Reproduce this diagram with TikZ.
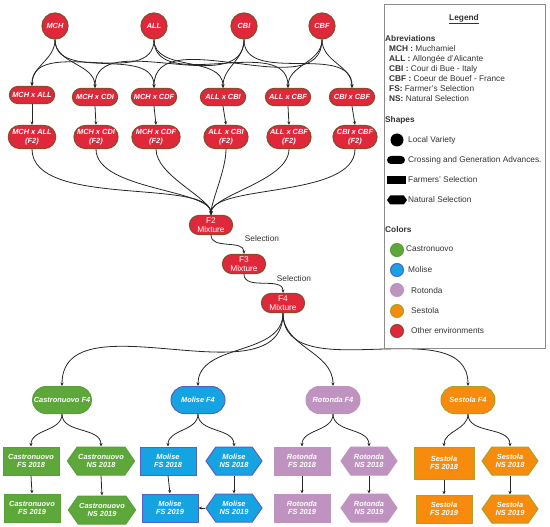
\documentclass[tikz,border=0pt]{standalone}
\usepackage{fontspec}
\setmainfont{Liberation Sans}
\usetikzlibrary{shapes.misc,shapes.symbols,arrows.meta}
\definecolor{cred}{HTML}{E0283A}
\definecolor{cbrown}{HTML}{8A4A2E}
\definecolor{cgreen}{HTML}{5EA83B}
\definecolor{cgreenb}{HTML}{5A9E38}
\definecolor{cblue}{HTML}{16A3E2}
\definecolor{cblueb}{HTML}{5560CC}
\definecolor{cpurple}{HTML}{BF93BF}
\definecolor{corange}{HTML}{F68B0E}
\definecolor{colive}{HTML}{A8A428}
\definecolor{ctext}{HTML}{333333}
\tikzset{
  nf/.style={font=\fontsize{7.4}{8.6}\selectfont\bfseries\itshape, text=white, align=center, inner sep=1pt},
  var/.style={nf, circle, fill=cred, draw=cbrown, line width=1.2pt, minimum size=26pt},
  cross/.style={nf, rounded rectangle, fill=cred, draw=cbrown, line width=1.2pt, minimum width=47pt, minimum height=17pt},
  crossb/.style={cross, minimum width=46pt, minimum height=23pt},
  mix/.style={rounded rectangle, fill=cred, draw=cbrown, line width=1.2pt, minimum width=44pt, minimum height=19pt, font=\fontsize{8.3}{8.6}\selectfont, text=white, align=center, inner sep=0.5pt},
  env/.style={nf, rounded rectangle, minimum width=56pt, minimum height=27pt, line width=1pt},
  fsbox/.style={nf, rectangle, minimum width=56pt, minimum height=28pt, line width=1pt},
  nsbox/.style={nf, signal, signal to=west and east, signal pointer angle=110, minimum width=56pt, minimum height=28pt, line width=1pt},
  cg/.style={fill=cgreen, draw=cgreenb},
  cb/.style={fill=cblue, draw=cblueb},
  cp/.style={fill=cpurple, draw=cpurple},
  co/.style={fill=corange, draw=colive},
  arr/.style={-{Stealth[length=3.5pt,width=3pt]}, line width=0.8pt, draw=black!85},
  lt/.style={anchor=west, font=\fontsize{8.3}{10}\selectfont, text=ctext, inner sep=0pt},
  lh/.style={anchor=west, font=\fontsize{8.3}{10}\selectfont\bfseries, text=ctext, inner sep=0pt},
  ldot/.style={circle, minimum size=13pt, inner sep=0pt, line width=1pt},
}
\begin{document}
\begin{tikzpicture}[x=1pt,y=-1pt]
\useasboundingbox (0,0) rectangle (550,527);
% parents
\node[var] (mch) at (55,26) {MCH};
\node[var] (all) at (154,26) {ALL};
\node[var] (cbi) at (244,26) {CBI};
\node[var] (cbf) at (322,26) {CBF};
% crossings
\node[cross] (a1) at (32,95) {MCH x ALL};
\node[cross] (b1) at (95,97) {MCH x CDI};
\node[cross] (c1) at (154,97) {MCH x CDF};
\node[cross] (d1) at (223,97) {ALL x CBI};
\node[cross] (e1) at (288,97) {ALL x CBF};
\node[cross] (f1) at (352,97) {CBI x CBF};
\node[crossb] (a2) at (32,137) {MCH x ALL\\(F2)};
\node[crossb] (b2) at (96,137) {MCH x CDI\\(F2)};
\node[crossb] (c2) at (156,137) {MCH x CDF\\(F2)};
\node[crossb] (d2) at (226,137) {ALL x CBI\\(F2)};
\node[crossb] (e2) at (289,137) {ALL x CBF\\(F2)};
\node[crossb] (f2n) at (355,137) {CBI x CBF\\(F2)};
% mixtures
\node[mix] (mx2) at (211,225) {F2\\Mixture};
\node[mix] (mx3) at (244,264) {F3\\Mixture};
\node[mix] (mx4) at (283,303) {F4\\Mixture};
\node[lt, anchor=center] (sel1) at (262,239) {Selection};
\node[lt, anchor=center] (sel2) at (294,279) {Selection};
% environments
\node[env, cg] (ca) at (62,400) {Castronuovo F4};
\node[env, cb] (mo) at (198,400) {Molise F4};
\node[env, cp] (ro) at (333,400) {Rotonda F4};
\node[env, co] (se) at (468,400) {Sestola F4};
\node[fsbox, cg] (cafs8) at (31,461) {Castronuovo\\FS 2018};
\node[nsbox, cg] (cans8) at (101,461) {Castronuovo\\NS 2018};
\node[fsbox, cg] (cafs9) at (32,508) {Castronuovo\\FS 2019};
\node[nsbox, cg] (cans9) at (102,510) {Castronuovo\\NS 2019};
\node[fsbox, cb] (mofs8) at (168,461) {Molise\\FS 2018};
\node[nsbox, cb] (mons8) at (234,461) {Molise\\NS 2018};
\node[fsbox, cb] (mofs9) at (170,508) {Molise\\FS 2019};
\node[nsbox, cb] (mons9) at (234,508) {Molise\\NS 2019};
\node[fsbox, cp] (rofs8) at (302,461) {Rotonda\\FS 2018};
\node[nsbox, cp] (rons8) at (369,461) {Rotonda\\NS 2018};
\node[fsbox, cp] (rofs9) at (302,508) {Rotonda\\FS 2019};
\node[nsbox, cp] (rons9) at (369,508) {Rotonda\\NS 2019};
\node[fsbox, co, minimum width=60pt, minimum height=32pt] (sefs8) at (444,463) {Sestola\\FS 2018};
\node[nsbox, co] (sens8) at (510,461) {Sestola\\NS 2018};
\node[fsbox, co] (sefs9) at (444,509) {Sestola\\FS 2019};
\node[nsbox, co] (sens9) at (510,509) {Sestola\\NS 2019};
% edges top
\foreach \s/\t in {mch/a1, mch/b1, mch/c1, all/a1, all/d1, all/e1, cbi/b1, cbi/d1, cbi/f1, cbf/c1, cbf/e1, cbf/f1}
  \draw[arr] (\s.south) to[out=-90,in=90] (\t.north);
\foreach \s/\t in {a1/a2, b1/b2, c1/c2, d1/d2, e1/e2, f1/f2n}
  \draw[arr] (\s.south) -- (\t.north);
\foreach \s in {a2,b2,c2,d2,e2,f2n}
  \draw[arr] (\s.south) to[out=-90,in=90,out looseness=0.8,in looseness=0.5] (mx2.north);
\draw[arr] (mx2.south) to[out=-90,in=90] (mx3.north);
\draw[arr] (mx3.south) to[out=-90,in=90] (mx4.north);
\foreach \t in {ca,mo,ro,se}
  \draw[arr] (mx4.south) to[out=-90,in=90] (\t.north);
\foreach \s/\a/\b in {ca/cafs8/cans8, mo/mofs8/mons8, ro/rofs8/rons8, se/sefs8/sens8}{
  \draw[arr] (\s.south) to[out=-90,in=90] (\a.north);
  \draw[arr] (\s.south) to[out=-90,in=90] (\b.north);
}
\foreach \s/\t in {cafs8/cafs9, cans8/cans9, mofs8/mofs9, mons8/mons9, rofs8/rofs9, rons8/rons9, sefs8/sefs9, sens8/sens9}
  \draw[arr] (\s.south) -- (\t.north);
\draw[arr] (mons9.west) -- (mofs9.east);
% legend
\draw[draw=black!45, line width=0.8pt] (384,4) rectangle (545,348);
\node[lh, anchor=center] (lg) at (464,19) {\underline{Legend}};
\node[lh] (lab) at (385,39) {Abreviations};
\node[lt] (l1) at (389,49) {\textbf{MCH :} Muchamiel};
\node[lt] (l2) at (389,59) {\textbf{ALL :} Allongée d'Alicante};
\node[lt] (l3) at (389,69) {\textbf{CBI :} Cour di Bue - Italy};
\node[lt] (l4) at (389,79) {\textbf{CBF :} Coeur de Bouef - France};
\node[lt] (l5) at (389,89) {\textbf{FS:} Farmer's Selection};
\node[lt] (l6) at (389,99) {\textbf{NS:} Natural Selection};
\node[lh] (lsh) at (385,120) {Shapes};
\node[circle, fill=black, minimum size=13pt, inner sep=0pt] (s1) at (397,140) {};
\node[lt] (t1) at (408,140) {Local Variety};
\node[rounded rectangle, fill=black, minimum width=18pt, minimum height=8pt, inner sep=0pt] (s2) at (396,160) {};
\node[lt] (t2) at (408,160) {Crossing and Generation Advances.};
\node[rectangle, fill=black, minimum width=19pt, minimum height=8pt, inner sep=0pt] (s3) at (396,180) {};
\node[lt] (t3) at (408,180) {Farmers' Selection};
\node[signal, signal to=west and east, signal pointer angle=110, fill=black, minimum width=20pt, minimum height=9pt, inner sep=0pt] (s4) at (397,200) {};
\node[lt] (t4) at (408,200) {Natural Selection};
\node[lh] (lco) at (385,230) {Colors};
\node[ldot, cg] (c1d) at (397,250) {};
\node[lt] (ct1) at (406,249) {Castronuovo};
\node[ldot, cb] (c2d) at (397,270) {};
\node[lt] (ct2) at (408,270) {Molise};
\node[ldot, cp] (c3d) at (397,290) {};
\node[lt] (ct3) at (411,291) {Rotonda};
\node[ldot, co] (c4d) at (397,311) {};
\node[lt] (ct4) at (411,311) {Sestola};
\node[ldot, fill=cred, draw=cbrown] (c5d) at (397,331) {};
\node[lt] (ct5) at (411,331) {Other environments};
\end{tikzpicture}
\end{document}
